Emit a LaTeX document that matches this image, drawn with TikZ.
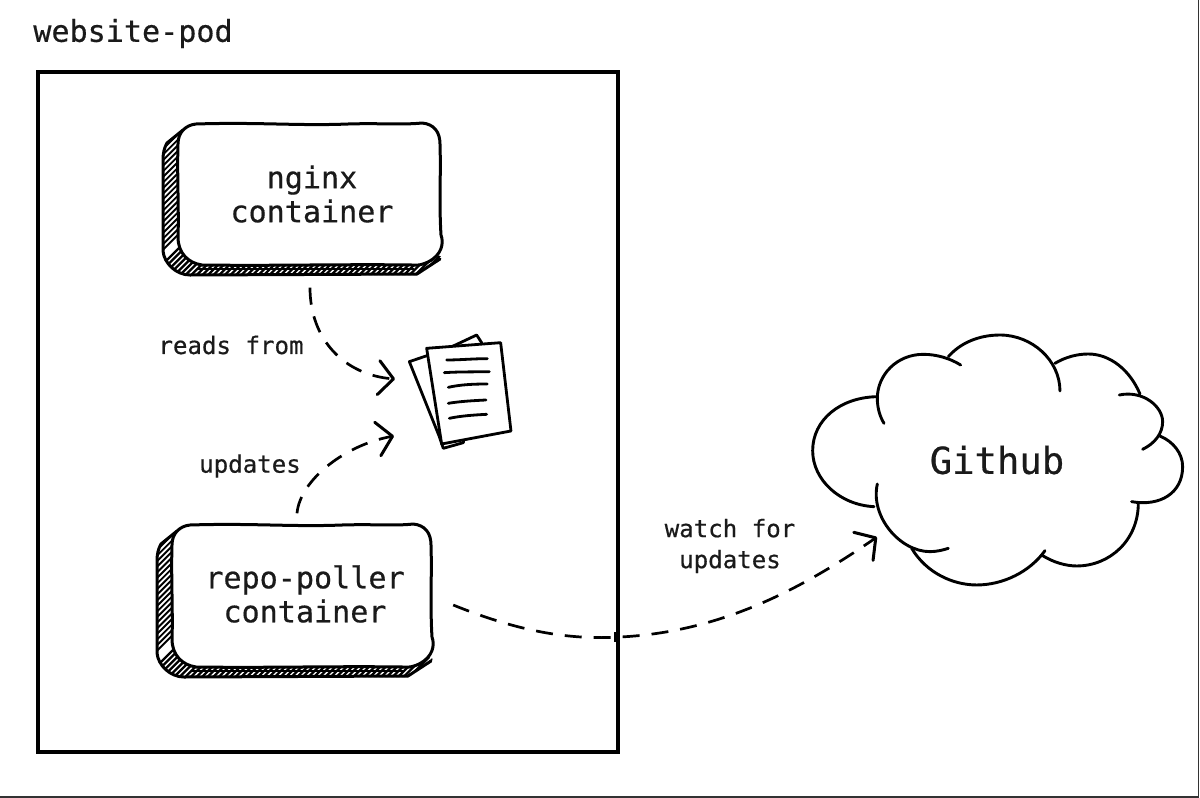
\documentclass[tikz,border=0pt]{standalone}
\usepackage{fontspec}
\setmonofont[RawFeature={embolden=0.5}]{DejaVu Sans Mono}
\usetikzlibrary{arrows.meta}
\definecolor{ink}{HTML}{1A1A1A}
\tikzset{
  x=1pt,y=-1pt,
  label text/.style={font=\ttfamily\fontsize{24.1}{31}\selectfont,text=ink,align=center,inner sep=0},
  box text/.style={font=\ttfamily\fontsize{30.1}{34}\selectfont,text=ink,align=center,inner sep=0,minimum width=262pt,minimum height=141pt},
  title text/.style={font=\ttfamily\fontsize{30.1}{34}\selectfont,text=ink,inner sep=0},
  cloud text/.style={font=\ttfamily\fontsize{37.2}{40}\selectfont,text=ink,inner sep=0},
  conn/.style={draw=black,line width=2.7pt,dash pattern=on 17pt off 12pt,-{Straight Barb[length=15pt,width=34pt,line width=3pt,round]}},
  sketch/.style={draw=black,line width=3pt,line cap=round,line join=round},
  inkline/.style={draw=black,line width=2.8pt,line cap=round,line join=round},
  cloudline/.style={draw=black,line width=2.9pt,line cap=round},
}
\newcommand{\sketchbox}[4]{%
  % #1,#2 top-left of face; #3 width; #4 height
  \begin{scope}[shift={(#1,#2)}]
    \begin{scope}
      \clip (5,6) -- (-11,19) -- (-15,36) -- (-15,#4-14) .. controls (-14,#4-2) and (-2,#4+10) .. (12,#4+11)
        -- (#3-25,#4+10) -- (#3,#4-8) -- (20,20) -- cycle;
      \fill[white] (-20,-5) rectangle (#3,#4+15);
      \foreach \k in {-30,-24.4,...,330}{
        \draw[black,line width=2.3pt] (\k,#4+14) -- (\k+45,#4-31);
      }
      \foreach \k in {0,5.6,...,130}{
        \draw[black,line width=1.9pt] (-18,\k) -- (12,\k-30);
      }
    \end{scope}
    \draw[sketch] (5,6) -- (-11,19) .. controls (-14,24) and (-15,30) .. (-15,36) -- (-15,#4-14) .. controls (-14,#4-2) and (-2,#4+10) .. (12,#4+10)
      -- (#3-25,#4+9) -- (#3-2,#4-6);
    \draw[black,line width=2.5pt] (20,#4+4) -- (#3-28,#4+4);
    \draw[sketch,fill=white] (18,0) .. controls (80,-2) and (120,2) .. (170,0)
      .. controls (200,-1) and (225,1) .. (#3-20,-1)
      .. controls (#3-8,0) and (#3-2,8) .. (#3-2,20)
      .. controls (#3-1,50) and (#3-3,80) .. (#3-1,#4-30)
      .. controls (#3+2,#4-22) and (#3,#4-10) .. (#3-14,#4-3)
      .. controls (#3-18,#4-1) and (#3-24,#4+1) .. (#3-30,#4)
      .. controls (#3-100,#4-1) and (100,#4+1) .. (24,#4)
      .. controls (10,#4-2) and (0,#4-12) .. (0,#4-28)
      .. controls (1,90) and (-1,50) .. (0,20)
      .. controls (0,8) and (8,1) .. (18,0) -- cycle;
  \end{scope}%
}
\begin{document}
\begin{tikzpicture}
  \useasboundingbox (0,0) rectangle (1200,798);
  \fill[white] (0,0) rectangle (1200,798);
  % outer border of the screenshot
  \draw[line width=1.5pt,draw=black!80] (1198.5,-2) -- (1198.5,797) -- (-2,797);
  % pod frame
  \draw[black,line width=4pt] (38,72) rectangle (618,752);
  \node[title text] (title) at (133,33.5) {website-pod};

  % containers
  \sketchbox{178}{124}{264}{141}
  \sketchbox{172}{525}{261}{142}
  \node[box text] (nginx) at (312,194) {nginx\\container};
  \node[box text] (repo) at (305,594) {repo-poller\\container};

  % documents
  \begin{scope}[shift={(280,280)},scale=0.3333]
    \draw[inkline,fill=white] (438,228) -- (388,245) -- (478,470) -- (490,505) -- (550,488) -- (605,188) -- (590,165) -- (505,205) -- cycle;
    \draw[inkline,fill=white] (440,205) -- (662,188) -- (693,453) -- (485,492) -- cycle;
    \draw[inkline] (500,240) .. controls (540,240) and (580,236) .. (622,236);
    \draw[inkline] (493,278) .. controls (540,275) and (580,276) .. (628,275);
    \draw[inkline] (505,322) .. controls (540,314) and (580,312) .. (622,312);
    \draw[inkline] (505,370) .. controls (540,364) and (580,362) .. (618,360);
    \draw[inkline] (508,415) .. controls (540,408) and (580,405) .. (620,403);
  \end{scope}

  % cloud
  \begin{scope}[shift={(790,320)},scale=0.3333]
    \draw[cloudline] (262,230) .. controls (150,232) and (68,300) .. (68,392) .. controls (68,480) and (150,555) .. (252,560);
    \draw[cloudline] (262,492) .. controls (240,590) and (330,695) .. (420,695) .. controls (440,695) and (460,690) .. (475,685);
    \draw[cloudline] (365,685) .. controls (410,760) and (490,795) .. (560,795) .. controls (640,795) and (720,755) .. (765,692);
    \draw[cloudline] (755,705) .. controls (790,728) and (830,738) .. (860,738) .. controls (960,738) and (1045,660) .. (1045,550);
    \draw[cloudline] (1025,545) .. controls (1110,560) and (1178,520) .. (1178,440) .. controls (1178,400) and (1150,365) .. (1110,348);
    \draw[cloudline] (1058,388) .. controls (1095,370) and (1118,340) .. (1118,305) .. controls (1118,260) and (1060,210) .. (988,225);
    \draw[cloudline] (1050,222) .. controls (1020,150) and (960,102) .. (895,102) .. controls (860,102) and (825,112) .. (795,130);
    \draw[cloudline] (810,213) .. controls (810,120) and (725,45) .. (630,45) .. controls (565,45) and (510,70) .. (475,110);
    \draw[cloudline] (512,135) .. controls (480,115) and (440,103) .. (400,103) .. controls (320,103) and (262,165) .. (262,235) .. controls (262,265) and (270,290) .. (282,310);
  \end{scope}
  \node[cloud text] (github) at (997,460) {Github};

  % labels
  \node[label text] (lblreads) at (231,345) {reads from};
  \node[label text] (lblupdates) at (250,466) {updates};
  \node[label text] (lblwatch) at (730,546) {watch for\\updates};

  % connector ends
  \coordinate (docsA) at (395,379);
  \coordinate (docsB) at (394,436);
  \coordinate (githubIn) at (877,537);
  \coordinate (nginxOut) at ([yshift=-23pt,xshift=-2pt]nginx.south);
  \coordinate (repoUp) at ([yshift=10pt,xshift=-8pt]repo.north);
  \coordinate (repoOut) at ([xshift=17pt,yshift=-11pt]repo.east);

  % connectors
  \draw[conn] (nginxOut) .. controls (310,340) and (345,375) .. (docsA);
  \draw[conn] (repoUp) .. controls (300,480) and (345,445) .. (docsB);
  \draw[conn] (repoOut) .. controls (520,632) and (570,640) .. (620,637) .. controls (720,632) and (800,590) .. (githubIn);
  \draw[black,line width=2pt] (615,632) -- (615,642);
\end{tikzpicture}
\end{document}
